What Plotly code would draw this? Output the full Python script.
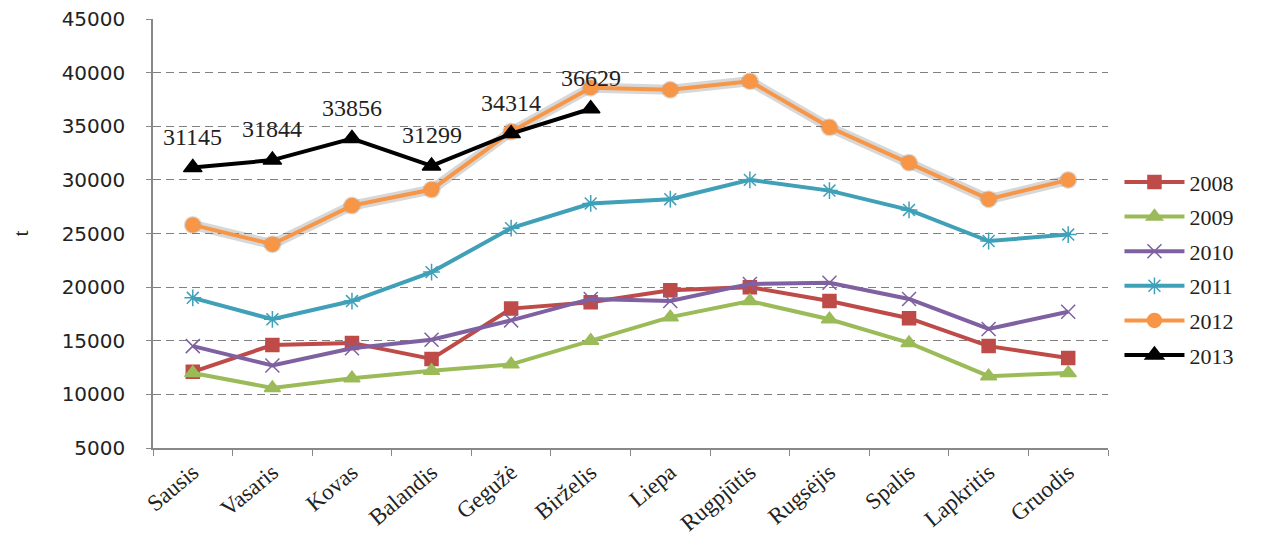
import plotly.graph_objects as go

months = ["Sausis", "Vasaris", "Kovas", "Balandis", "Gegužė", "Birželis",
          "Liepa", "Rugpjūtis", "Rugsėjis", "Spalis", "Lapkritis", "Gruodis"]

y2008 = [12100, 14600, 14800, 13300, 18000, 18600, 19700, 20000, 18700, 17100, 14500, 13400]
y2009 = [12000, 10600, 11500, 12200, 12800, 15000, 17200, 18700, 17000, 14800, 11700, 12000]
y2010 = [14500, 12700, 14300, 15100, 16900, 18900, 18700, 20300, 20400, 18900, 16100, 17700]
y2011 = [19000, 17000, 18700, 21400, 25500, 27800, 28200, 30000, 29000, 27200, 24300, 24900]
y2012 = [25800, 24000, 27600, 29100, 34500, 38600, 38400, 39200, 34900, 31600, 28200, 30000]
y2013 = [31145, 31844, 33856, 31299, 34314, 36629]

serif = "Liberation Serif"

fig = go.Figure()

# soft grey shadow behind the 2012 line
fig.add_trace(go.Scatter(x=months, y=y2012, mode="lines+markers", showlegend=False,
                         hoverinfo="skip",
                         line=dict(color="rgba(110,110,110,0.28)", width=10),
                         marker=dict(size=18, color="rgba(110,110,110,0.25)")))

series = [
    ("2008", y2008, "#BE4B48", "square", 13),
    ("2009", y2009, "#9BBB59", "triangle-up", 14),
    ("2010", y2010, "#7F60A0", "x-thin", 14),
    ("2011", y2011, "#3FA0B8", "asterisk", 14),
    ("2012", y2012, "#F79646", "circle", 14),
    ("2013", y2013, "#000000", "triangle-up", 16),
]

for name, ys, col, sym, size in series:
    fig.add_trace(go.Scatter(
        x=months[:len(ys)], y=ys, name=name, legendgroup=name, mode="lines+markers",
        line=dict(color=col, width=4),
        marker=dict(symbol=sym, size=size, color=col,
                    line=dict(color=col, width=1.5))))

for m, v in zip(months, y2013):
    fig.add_annotation(x=m, y=v, text=str(v), showarrow=False, yshift=31,
                       font=dict(family=serif, size=24, color="#222"))

fig.update_layout(
    width=1261, height=539,
    margin=dict(l=145, r=161, t=11, b=95),
    paper_bgcolor="white", plot_bgcolor="white",
    font=dict(family=serif, color="#222"),
    showlegend=True,
    legend=dict(x=1.012, y=0.418, yanchor="middle", xanchor="left",
                font=dict(family=serif, size=22, color="#222"),
                tracegroupgap=3, itemwidth=60, bgcolor="rgba(0,0,0,0)"),
    xaxis=dict(type="category", categoryorder="array", categoryarray=months,
               tickangle=-40, tickfont=dict(family=serif, size=23, color="#222"),
               showline=True, linecolor="#888", linewidth=1.5,
               ticks="outside", tickson="boundaries", ticklen=6, tickcolor="#888",
               showgrid=False, zeroline=False, range=[-0.5, 11.5]),
    yaxis=dict(range=[5000, 45000], dtick=5000, tickformat="d",
               tickfont=dict(family="DejaVu Sans", size=20, color="#222"),
               ticklabelstandoff=17, ticklabeloverflow="allow",
               showline=True, linecolor="#888", linewidth=1.5,
               ticks="outside", ticklen=5, tickcolor="#888",
               showgrid=True, gridcolor="#808080", griddash="8px,5px", gridwidth=1.2,
               zeroline=False, automargin=False,
               title=dict(text="t", font=dict(family=serif, size=22, color="#222"),
                          standoff=38)),
)

fig.write_html("out.html")
